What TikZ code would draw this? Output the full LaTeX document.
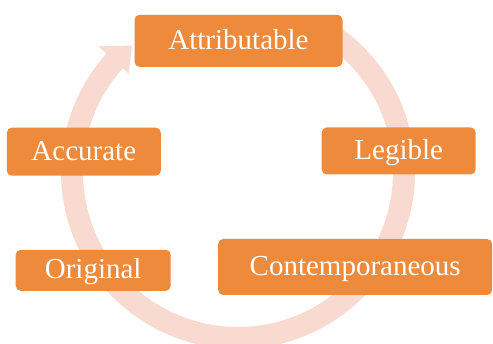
\documentclass[tikz,border=0pt]{standalone}
\usepackage{fontspec}
\setmainfont{Liberation Serif}
\definecolor{cTile}{HTML}{EE8A3C}
\definecolor{cRing}{HTML}{F8DAD1}
\tikzset{
  tile/.style ={fill=cTile,draw=none,rounded corners=5pt,text=white,inner sep=0pt,
                font=\fontsize{29}{32}\selectfont,text height=20pt,text depth=3pt},
  ring/.style ={fill=cRing,draw=none},
}

\begin{document}
\begin{tikzpicture}[x=1pt,y=1pt]
\useasboundingbox (0,0) rectangle (493,344);
\coordinate (hub) at (238,172);

% Band runs clockwise from under the top tile round to the arrow head;
% the gap between tip and start stays hidden behind "Attributable".
\begin{scope}[shift={(hub)}]
\fill[ring] (60:177) arc[start angle=60,end angle=-222,radius=177]
  -- (138:188) -- (130:165) -- (138:147) -- (138:155)
  arc[start angle=-222,end angle=60,radius=155] -- cycle;
\end{scope}

\node[tile,minimum width=208pt,minimum height=52pt] (attr) at (238.5,303.2) {Attributable};
\node[tile,minimum width=154pt,minimum height=47pt] (leg)  at (398.7,193)   {Legible};
\node[tile,minimum width=274pt,minimum height=56pt] (cont) at (355.2,77)    {Contemporaneous};
\node[tile,minimum width=155pt,minimum height=41pt] (orig) at (93.2,73.7)   {Original};
\node[tile,minimum width=154pt,minimum height=48pt] (acc)  at (83.8,192.3)  {Accurate};
\end{tikzpicture}
\end{document}
